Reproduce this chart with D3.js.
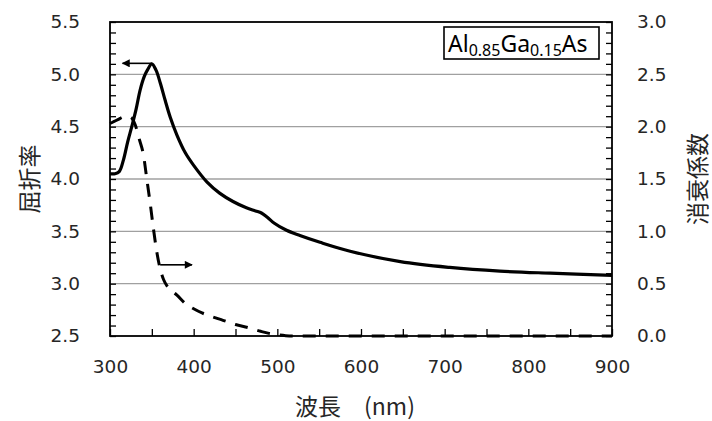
<!DOCTYPE html>
<html>
<head>
<meta charset="utf-8">
<script src="https://cdn.jsdelivr.net/npm/d3@7"></script>
<style>
  html, body { margin: 0; padding: 0; background: #fff; }
  svg { display: block; }
</style>
</head>
<body>
<svg id="chart" width="712" height="421"></svg>
<script>
// Refractive index n (left axis) versus wavelength
const nWavelength = [300, 306, 311, 316, 321, 326, 331, 336, 341, 345, 350, 355, 360, 366, 372, 380, 390, 400, 416, 431, 447, 463, 474, 481, 488, 496, 511, 527, 551, 587, 647, 706, 766, 826, 900];
const nValues     = [4.05, 4.05, 4.07, 4.18, 4.35, 4.50, 4.66, 4.85, 4.98, 5.045, 5.10, 5.04, 4.92, 4.75, 4.59, 4.42, 4.25, 4.13, 3.97, 3.865, 3.785, 3.725, 3.695, 3.675, 3.635, 3.58, 3.51, 3.46, 3.395, 3.31, 3.21, 3.155, 3.12, 3.10, 3.08];

// Extinction coefficient k (right axis) versus wavelength
const kWavelength = [300, 305, 310, 315, 320, 325, 330, 335, 340, 344, 348, 352, 356, 360, 364, 368, 374, 380, 390, 400, 410, 420, 435, 450, 465, 480, 490, 500, 510, 520, 900];
const kValues     = [2.03, 2.05, 2.07, 2.09, 2.10, 2.09, 2.02, 1.88, 1.73, 1.50, 1.27, 1.02, 0.80, 0.64, 0.54, 0.48, 0.43, 0.39, 0.31, 0.26, 0.22, 0.19, 0.15, 0.11, 0.08, 0.045, 0.025, 0.012, 0.003, 0, 0];

// Axis ticks
const xTicks = d3.range(300, 901, 50);
const xLabels = [300, 400, 500, 600, 700, 800, 900];
const nTicks = d3.range(25, 56).map(d => d / 10);
const nGrid = [3.0, 3.5, 4.0, 4.5, 5.0];
const kTicks = d3.range(0, 31).map(d => d / 10);

// Arrows pointing each curve to its axis
const arrows = [
  { from: 350, to: 315, value: 5.105, axis: "n" },
  { from: 360, to: 398, value: 0.68, axis: "k" }
];

const svg = d3.select("#chart");
const W = 712, H = 421;
const plotL = 110, plotR = 612, plotT = 22, plotB = 336;

svg.append("rect").attr("width", W).attr("height", H).attr("fill", "#fff");

const x = d3.scaleLinear().domain([300, 900]).range([plotL, plotR]);
const yN = d3.scaleLinear().domain([2.5, 5.5]).range([plotB, plotT]);
const yK = d3.scaleLinear().domain([0, 3]).range([plotB, plotT]);

const fontNum = "'DejaVu Sans', sans-serif";
const fontCJK = "'Noto Sans CJK JP', sans-serif";

// gridlines
svg.append("g").selectAll("line").data(nGrid).join("line")
  .attr("x1", plotL).attr("x2", plotR)
  .attr("y1", d => yN(d)).attr("y2", d => yN(d))
  .attr("stroke", "#a0a0a0").attr("stroke-width", 1.3);

// curves
const nLine = d3.line().x(d => x(d[0])).y(d => yN(d[1])).curve(d3.curveCatmullRom.alpha(0.5));
const kLine = d3.line().x(d => x(d[0])).y(d => yK(d[1])).curve(d3.curveMonotoneX);

svg.append("path")
  .datum(d3.zip(kWavelength, kValues))
  .attr("d", kLine)
  .attr("fill", "none").attr("stroke", "#000").attr("stroke-width", 3)
  .attr("stroke-dasharray", "13,10");

svg.append("path")
  .datum(d3.zip(nWavelength, nValues))
  .attr("d", nLine)
  .attr("fill", "none").attr("stroke", "#000").attr("stroke-width", 3.2)
  .attr("stroke-linejoin", "round");

// arrows
const defs = svg.append("defs");
defs.append("marker").attr("id", "head")
  .attr("viewBox", "0 0 10 10").attr("refX", 9).attr("refY", 5)
  .attr("markerWidth", 9).attr("markerHeight", 8).attr("markerUnits", "userSpaceOnUse")
  .attr("orient", "auto")
  .append("path").attr("d", "M0,0 L10,5 L0,10 Z").attr("fill", "#000");

svg.append("g").selectAll("line").data(arrows).join("line")
  .attr("x1", d => x(d.from)).attr("x2", d => x(d.to))
  .attr("y1", d => (d.axis === "n" ? yN : yK)(d.value))
  .attr("y2", d => (d.axis === "n" ? yN : yK)(d.value))
  .attr("stroke", "#000").attr("stroke-width", 1.6)
  .attr("marker-end", "url(#head)");

// axes with inward ticks
function styleAxis(g) {
  g.select(".domain").remove();
  g.selectAll(".tick line").attr("stroke", "#000").attr("stroke-width", 1.3);
  g.selectAll(".tick text").attr("fill", "#262626")
    .style("font-family", fontNum).style("font-size", "18.5px");
}

svg.append("g").attr("transform", `translate(${plotL},0)`)
  .call(d3.axisLeft(yN).tickValues(nTicks).tickSize(-6).tickPadding(30)
    .tickFormat(d => (Math.round(d * 10) % 5 === 0 ? d3.format(".1f")(d) : "")))
  .call(styleAxis);

svg.append("g").attr("transform", `translate(${plotR},0)`)
  .call(d3.axisRight(yK).tickValues(kTicks).tickSize(-6).tickPadding(25)
    .tickFormat(d => (Math.round(d * 10) % 5 === 0 ? d3.format(".1f")(d) : "")))
  .call(styleAxis);

svg.append("g").attr("transform", `translate(0,${plotB})`)
  .call(d3.axisBottom(x).tickValues(xTicks).tickSize(-7).tickPadding(24)
    .tickFormat(d => (xLabels.includes(d) ? String(d) : "")))
  .call(styleAxis);

// frame
svg.append("rect")
  .attr("x", plotL).attr("y", plotT)
  .attr("width", plotR - plotL).attr("height", plotB - plotT)
  .attr("fill", "none").attr("stroke", "#000").attr("stroke-width", 1.8);

// axis titles
svg.append("text")
  .attr("transform", `translate(28,${(plotT + plotB) / 2}) rotate(-90)`)
  .attr("text-anchor", "middle").attr("dominant-baseline", "central")
  .style("font-family", fontCJK).style("font-size", "23px").attr("fill", "#262626")
  .text("屈折率");

svg.append("text")
  .attr("transform", `translate(696,${(plotT + plotB) / 2}) rotate(-90)`)
  .attr("text-anchor", "middle").attr("dominant-baseline", "central")
  .style("font-family", fontCJK).style("font-size", "23px").attr("fill", "#262626")
  .text("消衰係数");

svg.append("text")
  .attr("x", 355).attr("y", 415)
  .attr("text-anchor", "middle")
  .style("font-family", fontCJK).style("font-size", "23px").attr("fill", "#262626")
  .text("波長　(nm)");

// material label box
svg.append("rect")
  .attr("x", 444).attr("y", 27).attr("width", 155).attr("height", 32)
  .attr("fill", "#fff").attr("stroke", "#000").attr("stroke-width", 1.6);

const label = svg.append("text")
  .attr("x", 448).attr("y", 51.5)
  .style("font-family", "'Noto Sans', sans-serif").style("font-size", "23px")
  .attr("fill", "#000");
const parts = [["Al", false], ["0.85", true], ["Ga", false], ["0.15", true], ["As", false]];
parts.forEach(([t, sub], i) => {
  const prevSub = i > 0 && parts[i - 1][1];
  label.append("tspan")
    .attr("dy", sub ? 4 : (prevSub ? -4 : 0))
    .style("font-size", sub ? "16px" : "23px")
    .text(t);
});
</script>
</body>
</html>
